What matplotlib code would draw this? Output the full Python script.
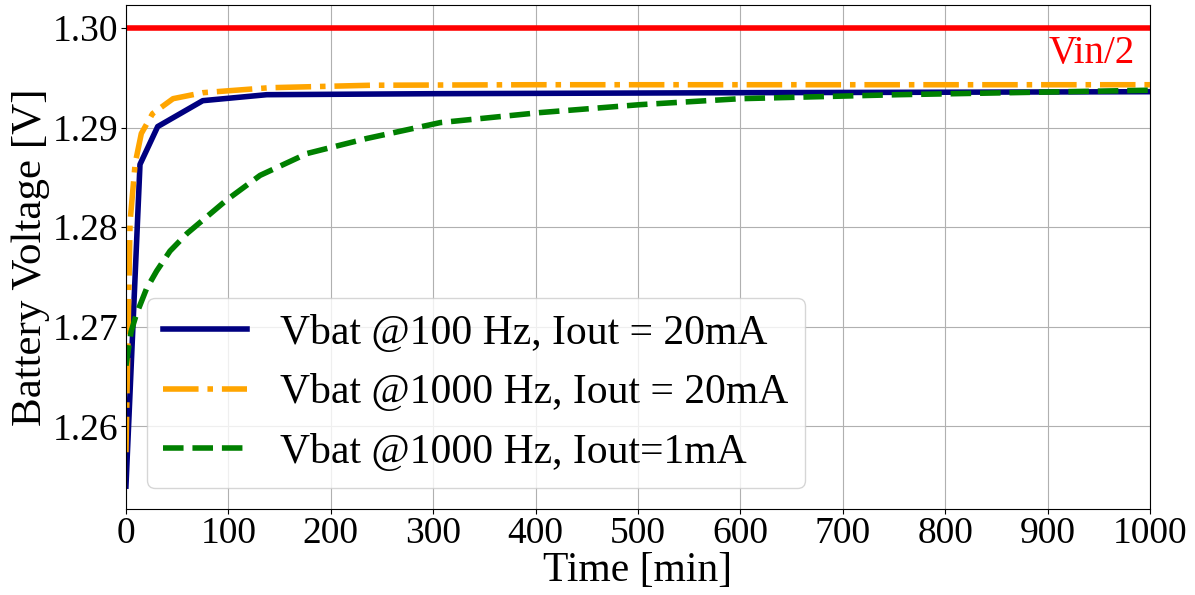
import numpy as np
import matplotlib
matplotlib.use("Agg")
import matplotlib.pyplot as plt

plt.rcParams['font.family'] = ['Liberation Serif', 'DejaVu Serif']

# Vbat @100 Hz, Iout = 20mA
t_100hz = [0, 13.7, 31, 75, 137.5, 300, 600, 1000]
v_100hz = [1.2540, 1.2863, 1.2901, 1.2927, 1.2933, 1.2934, 1.2935, 1.2936]

# Vbat @1000 Hz, Iout = 20mA
t_1khz = [0, 4, 9, 15, 26, 46, 75, 140, 240, 400, 1000]
v_1khz = [1.2574, 1.2805, 1.2864, 1.2894, 1.2914, 1.2929, 1.2935, 1.2940,
          1.29425, 1.2943, 1.2943]

# Vbat @1000 Hz, Iout=1mA
t_1ma = [0, 5, 10, 20, 30, 43, 60, 98, 131, 177, 235, 307, 404, 502, 600, 754, 1000]
v_1ma = [1.2661, 1.2695, 1.2712, 1.2738, 1.2756, 1.2776, 1.2794, 1.2827, 1.2852,
         1.2874, 1.2889, 1.2905, 1.2915, 1.2923, 1.2929, 1.2933, 1.29375]

v_ref = 1.30
x_ticks = np.arange(0, 1001, 100)
y_ticks = [1.26, 1.27, 1.28, 1.29, 1.30]

fig = plt.figure(figsize=(11.95, 5.95), dpi=100)
ax = fig.add_axes([0.1054, 0.1445, 0.8569, 0.847])

ax.plot(t_100hz, v_100hz, color='navy', lw=4, label='Vbat @100 Hz, Iout = 20mA')
ax.plot(t_1khz, v_1khz, color='orange', lw=4, linestyle='-.', label='Vbat @1000 Hz, Iout = 20mA')
ax.plot(t_1ma, v_1ma, color='green', lw=4, linestyle='--', label='Vbat @1000 Hz, Iout=1mA')
ax.plot([0, 1000], [v_ref, v_ref], color='red', lw=4)
ax.text(985, 1.2965, 'Vin/2', color='red', fontsize=28, ha='right', va='baseline')

ax.set_xlim(0, 1000)
ax.set_ylim(1.2517, 1.3023)
ax.set_xticks(x_ticks)
ax.set_yticks(y_ticks)
ax.set_yticklabels([f"{v:.2f}" for v in y_ticks])
ax.tick_params(labelsize=27, pad=2)
ax.set_xlabel('Time [min]', fontsize=30, labelpad=0)
ax.set_ylabel('Battery Voltage [V]', fontsize=31, labelpad=2)
ax.grid(True)
ax.legend(loc='lower left', fontsize=30)

fig.savefig('out.png', dpi=100)
